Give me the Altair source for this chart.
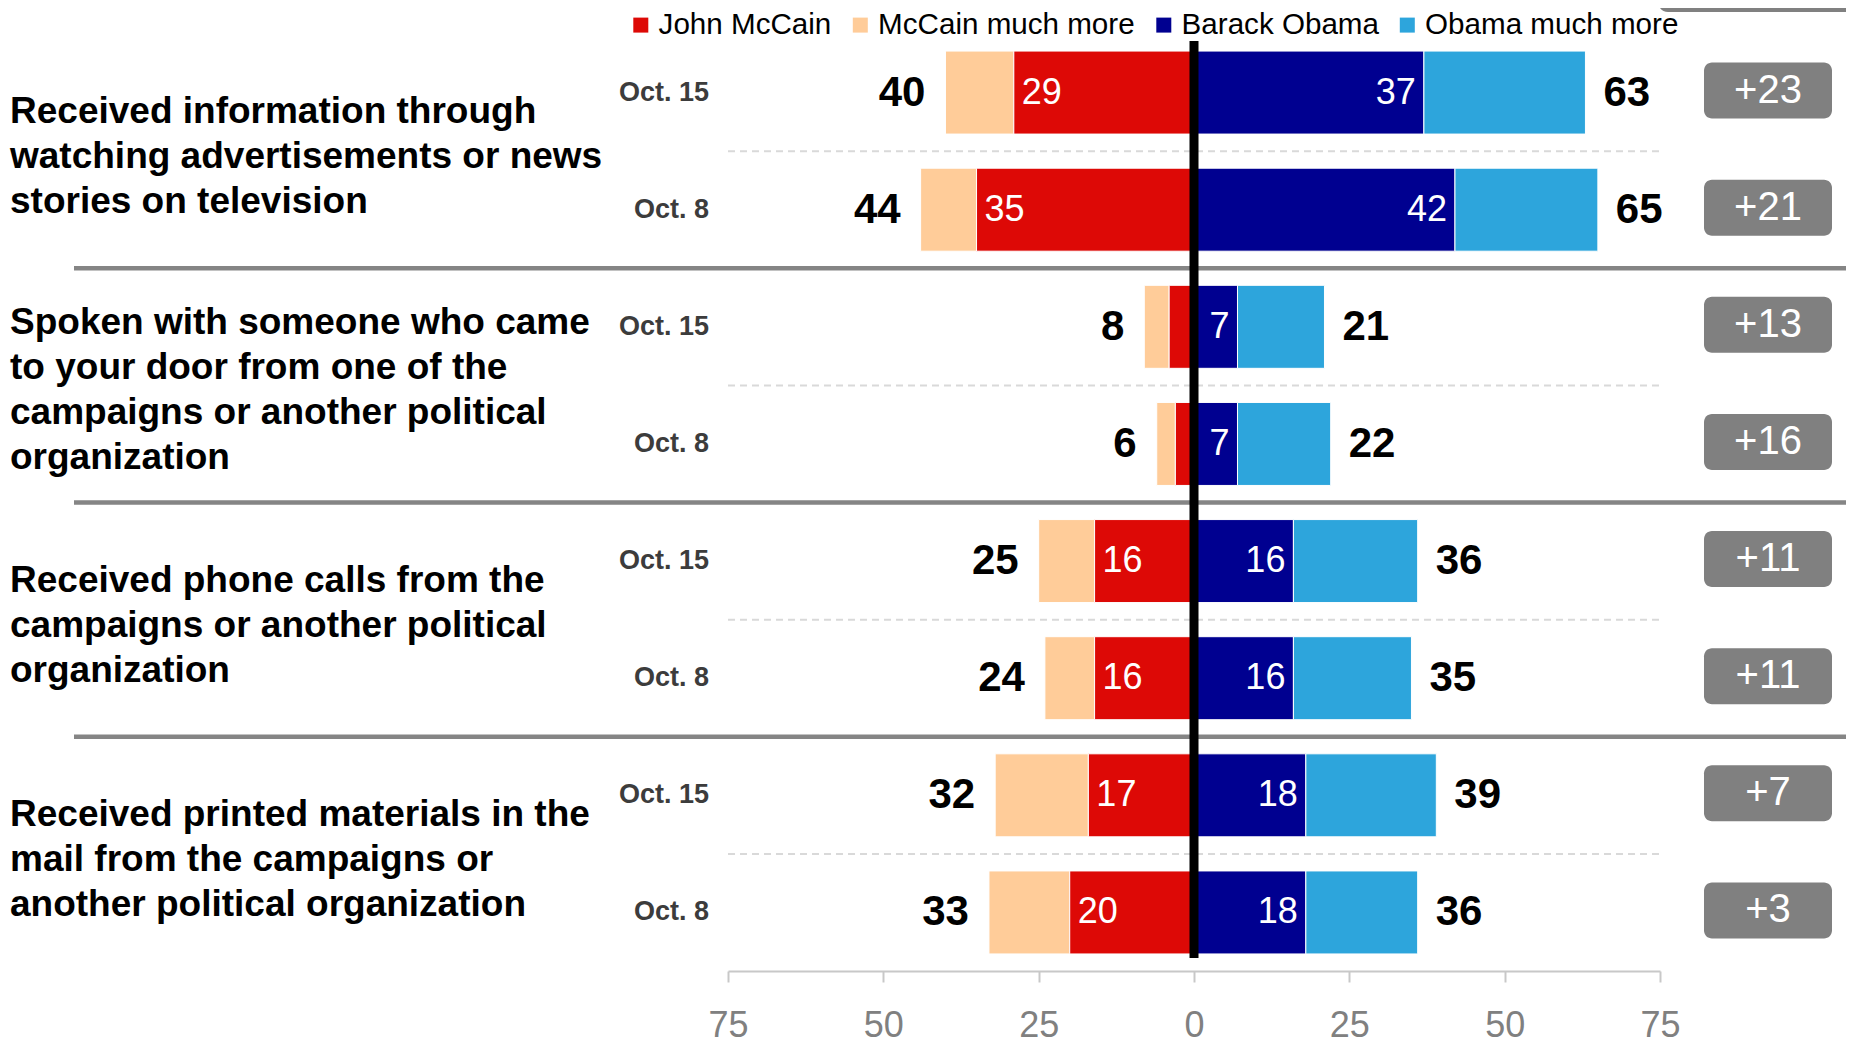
import altair as alt
import pandas as pd

FONT = "Liberation Sans, Arial, Helvetica, sans-serif"

# ---------------- data ----------------
categories = [
    ["Received information through", "watching advertisements or news", "stories on television"],
    ["Spoken with someone who came", "to your door from one of the",
     "campaigns or another political", "organization"],
    ["Received phone calls from the", "campaigns or another political", "organization"],
    ["Received printed materials in the", "mail from the campaigns or",
     "another political organization"],
]
dates = ["Oct. 15", "Oct. 8", "Oct. 15", "Oct. 8", "Oct. 15", "Oct. 8", "Oct. 15", "Oct. 8"]
mccain = [29, 35, 4, 3, 16, 16, 17, 20]
mccain_total = [40, 44, 8, 6, 25, 24, 32, 33]
obama = [37, 42, 7, 7, 16, 16, 18, 18]
obama_total = [63, 65, 21, 22, 36, 35, 39, 36]
mccain_labels = ["29", "35", "", "", "16", "16", "17", "20"]
obama_labels = ["37", "42", "7", "7", "16", "16", "18", "18"]
margins = ["+23", "+21", "+13", "+16", "+11", "+11", "+7", "+3"]
series = ["John McCain", "McCain much more", "Barack Obama", "Obama much more"]
colors = ["#DD0906", "#FFCC99", "#000090", "#2DA5DC"]
tick_values = [-75, -50, -25, 0, 25, 50, 75]

# ---------------- tables ----------------
rows = pd.DataFrame({
    "pos": list(range(len(dates))),
    "date": dates,
    "m": mccain, "mt": mccain_total,
    "o": obama, "ot": obama_total,
    "mlab": mccain_labels, "olab": obama_labels,
    "margin": margins,
})
rows["neg_m"] = -rows["m"]
rows["neg_mt"] = -rows["mt"]

seg = []
for i in range(len(dates)):
    seg.append({"pos": i, "series": "McCain much more", "start": -mccain_total[i], "end": -mccain[i]})
    seg.append({"pos": i, "series": "John McCain", "start": -mccain[i], "end": 0})
    seg.append({"pos": i, "series": "Barack Obama", "start": 0, "end": obama[i]})
    seg.append({"pos": i, "series": "Obama much more", "start": obama[i], "end": obama_total[i]})
seg = pd.DataFrame(seg)

label_values = [{"pos": 2 * g + 0.5, "text": categories[g], "n": len(categories[g])}
                for g in range(len(categories))]
labels3 = alt.Data(values=[d for d in label_values if d["n"] == 3])
labels4 = alt.Data(values=[d for d in label_values if d["n"] == 4])
dashed = pd.DataFrame({"pos": [2 * g + 0.5 for g in range(len(categories))]})
separators = pd.DataFrame({"pos": [2 * g + 1.5 for g in range(len(categories) - 1)]})
one = pd.DataFrame({"k": [0]})

yscale = alt.Scale(domain=[-0.5, 7.5], reverse=True, nice=False, zero=False, padding=0)
xscale = alt.Scale(domain=[-75, 75], nice=False, zero=False, padding=0)

Y = alt.Y("pos:Q", scale=yscale, axis=None, title=None)

sep_layer = alt.Chart(separators).mark_rule(color="#858585", strokeWidth=4.5).encode(
    y=Y, x=alt.value(-654), x2=alt.value(1126)
)

dash_layer = alt.Chart(dashed).mark_rule(color="#D9D9D9", strokeWidth=2, strokeDash=[7, 5]).encode(
    y=Y, x=alt.datum(-75, scale=xscale), x2=alt.datum(75)
)

bars = alt.Chart(seg).mark_bar(size=83, stroke="white", strokeWidth=1, orient="horizontal").encode(
    x=alt.X("start:Q", scale=xscale, title=None,
            axis=alt.Axis(values=tick_values, labelExpr="abs(datum.value)", grid=False,
                          domainColor="#C8C8C8", domainWidth=2, tickColor="#C8C8C8",
                          tickWidth=2, tickSize=11, labelFontSize=36, labelColor="#808080",
                          labelFont=FONT, labelPadding=26, labelFlush=False, title=None)),
    x2="end:Q",
    y=Y,
    color=alt.Color("series:N", scale=alt.Scale(domain=series, range=colors),
                    legend=alt.Legend(orient="none", legendX=-102, legendY=-24,
                                      direction="horizontal", title=None,
                                      symbolType="square", symbolSize=225,
                                      symbolStrokeWidth=0, symbolOpacity=1,
                                      labelFontSize=29.6, labelFont=FONT, labelColor="black",
                                      labelOffset=3, columnPadding=13.5, labelLimit=600,
                                      padding=0)),
)

zero_line = alt.Chart(one).mark_rule(color="black", strokeWidth=9).encode(
    x=alt.datum(0), y=alt.value(7), y2=alt.value(924)
)

m_in = alt.Chart(rows).mark_text(align="left", baseline="middle", dx=8, color="white",
                                 fontSize=36, font=FONT).encode(
    x=alt.X("neg_m:Q", title=None), y=Y, text="mlab:N")
o_in = alt.Chart(rows).mark_text(align="right", baseline="middle", dx=-8, color="white",
                                 fontSize=36, font=FONT).encode(
    x=alt.X("o:Q", title=None), y=Y, text="olab:N")

m_tot = alt.Chart(rows).mark_text(align="right", baseline="middle", dx=-20, color="black",
                                  fontSize=42, fontWeight="bold", font=FONT).encode(
    x=alt.X("neg_mt:Q", title=None), y=Y, text="mt:Q")
o_tot = alt.Chart(rows).mark_text(align="left", baseline="middle", dx=18, color="black",
                                  fontSize=42, fontWeight="bold", font=FONT).encode(
    x=alt.X("ot:Q", title=None), y=Y, text="ot:Q")

date_txt = alt.Chart(rows).mark_text(align="right", baseline="middle", color="#3C3C3C",
                                     fontSize=27, fontWeight="bold", font=FONT).encode(
    x=alt.value(-19), y=Y, text="date:N")

LINE_H = 45
cat_txt3 = alt.Chart(labels3).mark_text(align="left", baseline="middle", color="black",
                                        fontSize=37, fontWeight="bold", font=FONT,
                                        lineHeight=LINE_H, dy=-LINE_H + 6).encode(
    x=alt.value(-718), y=Y, text="text:N")
cat_txt4 = alt.Chart(labels4).mark_text(align="left", baseline="middle", color="black",
                                        fontSize=37, fontWeight="bold", font=FONT,
                                        lineHeight=LINE_H, dy=-1.5 * LINE_H + 5).encode(
    x=alt.value(-718), y=Y, text="text:N")

badges = alt.Chart(rows).mark_bar(size=56, cornerRadius=8, color="#808080", orient="horizontal",
                                  yOffset=-2).encode(
    x=alt.value(976), x2=alt.value(1104), y=Y)
badge_txt = alt.Chart(rows).mark_text(align="center", baseline="middle", color="white",
                                      fontSize=40, font=FONT, yOffset=-2).encode(
    x=alt.value(1040), y=Y, text="margin:N")

top_badge = alt.Chart(one).mark_bar(cornerRadius=10, color="#808080").encode(
    x=alt.value(930), x2=alt.value(1160), y=alt.value(-70), y2=alt.value(-22))

chart = alt.layer(
    sep_layer, dash_layer, bars, zero_line, m_in, o_in, m_tot, o_tot,
    date_txt, cat_txt3, cat_txt4, badges, badge_txt, top_badge
).properties(
    width=932, height=937,
    padding={"left": 720, "top": 26, "right": 186, "bottom": 68},
    autosize=alt.AutoSizeParams(type="none"),
).configure_view(stroke=None)

chart.save("out.html", embed_options={"renderer": "svg", "actions": False})
